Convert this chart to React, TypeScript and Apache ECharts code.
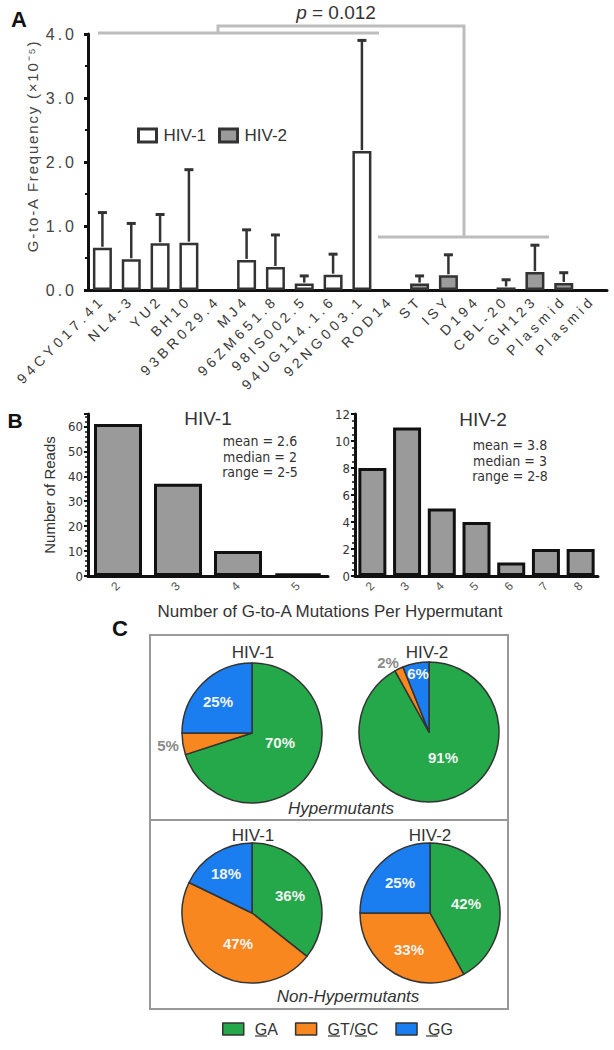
import React, { useEffect, useRef } from 'react';
import * as echarts from 'echarts';

// ---------- Panel A data ----------
const strainNames = ['94CY017.41', 'NL4-3', 'YU2', 'BH10', '93BR029.4', 'MJ4', '96ZM651.8', '98IS002.5', '94UG114.1.6', '92NG003.1', 'ROD14', 'ST', 'ISY', 'D194', 'CBL-20', 'GH123', 'Plasmid', 'Plasmid'];
const strainType = ['HIV-1', 'HIV-1', 'HIV-1', 'HIV-1', 'HIV-1', 'HIV-1', 'HIV-1', 'HIV-1', 'HIV-1', 'HIV-1', 'HIV-2', 'HIV-2', 'HIV-2', 'HIV-2', 'HIV-2', 'HIV-2', 'HIV-2', 'HIV-2'];
const gaFrequency = [0.66, 0.48, 0.73, 0.74, 0, 0.47, 0.36, 0.10, 0.24, 2.17, 0, 0.10, 0.23, 0, 0.04, 0.28, 0.11, 0];
const gaFrequencySD = [0.55, 0.56, 0.45, 1.14, 0, 0.47, 0.50, 0.12, 0.32, 1.73, 0, 0.12, 0.32, 0, 0.12, 0.42, 0.16, 0];
const freqTickLabels = ['0.0', '1.0', '2.0', '3.0', '4.0'];
const pValueText = '= 0.012';

// ---------- Panel B data ----------
const hiv1MutCounts = ['2', '3', '4', '5'];
const hiv1Reads = [61, 37, 10, 1];
const hiv2MutCounts = ['2', '3', '4', '5', '6', '7', '8'];
const hiv2Reads = [8, 11, 5, 4, 1, 2, 2];
const hiv1Stats = ['mean = 2.6', 'median = 2', 'range = 2-5'];
const hiv2Stats = ['mean = 3.8', 'median = 3', 'range = 2-8'];

// ---------- Panel C data ----------
const mutationTypes = ['GA', 'GT/GC', 'GG'];
const hyperHIV1 = [70, 5, 25];
const hyperHIV2 = [91, 2, 6];
const nonHyperHIV1 = [36, 47, 18];
const nonHyperHIV2 = [42, 33, 25];

// ---------- styles ----------
const FONT = "'Liberation Sans', Arial, sans-serif";
const NARROW = "'Liberation Sans Narrow', 'DejaVu Sans Condensed', sans-serif";
const pieColors = ['#24a84a', '#f7871e', '#1b7ef0'];
const yNameA = 'G-to-A Frequency (×10⁻⁵)';

function txt(x: number, y: number, text: string, size: number, extra: any = {}) {
  return {
    type: 'text',
    x,
    y,
    silent: true,
    rotation: extra.rotation || 0,
    style: {
      text,
      fontSize: size,
      fontFamily: extra.fontFamily || FONT,
      fontWeight: extra.fontWeight || 'normal',
      fontStyle: extra.fontStyle || 'normal',
      fill: extra.fill || '#333',
      align: extra.align || 'center',
      verticalAlign: extra.verticalAlign || 'middle',
      textAlign: extra.align || 'center',
      textVerticalAlign: extra.verticalAlign || 'middle',
      lineHeight: extra.lineHeight,
      rich: extra.rich,
    },
  };
}

function uline(x1: number, x2: number, y: number) {
  return { type: 'line', silent: true, shape: { x1, y1: y, x2, y2: y }, style: { stroke: '#333', lineWidth: 1.2 } };
}

function pieSeries(values: number[], center: number[], offsets: number[][], greyIdx: number[]) {
  return {
    type: 'pie',
    center,
    radius: 70,
    startAngle: 90,
    clockwise: true,
    avoidLabelOverlap: false,
    data: mutationTypes.map((n, i) => ({
      name: n,
      value: values[i],
      itemStyle: { color: pieColors[i] },
      label: greyIdx.includes(i) ? { color: '#8a8a8a' } : undefined,
    })),
    itemStyle: { borderColor: '#333', borderWidth: 1.5 },
    label: {
      show: true,
      position: 'inside',
      formatter: '{c}%',
      color: '#f2f4f2',
      fontWeight: 'bold',
      fontSize: 15,
      fontFamily: FONT,
    },
    labelLine: { show: false },
    emphasis: { disabled: true },
    labelLayout: (p: any) => {
      const o = offsets[p.dataIndex];
      return { x: center[0] + o[0], y: center[1] + o[1], align: 'center', verticalAlign: 'middle' };
    },
  };
}

function buildOption(): any {
  const axisLineStyle = { lineStyle: { color: '#111', width: 3 } };
  return {
    animation: false,
    textStyle: { fontFamily: FONT },
    grid: [
      { left: 88, top: 34, width: 519, height: 256 },
      { left: 88, top: 414, width: 240, height: 162 },
      { left: 355, top: 414, width: 243, height: 162 },
    ],
    legend: [
      {
        data: ['HIV-1', 'HIV-2'],
        left: 137,
        top: 127,
        icon: 'rect',
        itemWidth: 18,
        itemHeight: 13,
        itemGap: 12,
        selectedMode: false,
        padding: 0,
        itemStyle: { borderWidth: 3, borderColor: '#333' },
        textStyle: { fontSize: 17, color: '#333', fontFamily: FONT, padding: [0, 0, 0, 2] },
      },
      {
        data: mutationTypes,
        left: 222,
        top: 1021,
        icon: 'rect',
        itemWidth: 21,
        itemHeight: 12,
        itemGap: 17,
        selectedMode: false,
        padding: 0,
        itemStyle: { borderWidth: 1.5, borderColor: '#333' },
        textStyle: { fontSize: 16, color: '#333', fontFamily: FONT, padding: [0, 0, 0, 6] },
      },
    ],
    xAxis: [
      {
        type: 'category',
        gridIndex: 0,
        data: strainNames,
        axisLine: axisLineStyle,
        axisTick: { alignWithLabel: true, length: 5, lineStyle: { color: '#111', width: 3 } },
        axisLabel: { interval: 0, rotate: 45, fontSize: 14, color: '#3a3a3a', margin: 8 },
      },
      {
        type: 'category',
        gridIndex: 1,
        data: hiv1MutCounts,
        axisLine: axisLineStyle,
        axisTick: { alignWithLabel: true, length: 5, lineStyle: { color: '#111', width: 2.5 } },
        axisLabel: { rotate: 45, fontSize: 12, color: '#555', margin: 8 },
      },
      {
        type: 'category',
        gridIndex: 2,
        data: hiv2MutCounts,
        axisLine: axisLineStyle,
        axisTick: { alignWithLabel: true, length: 5, lineStyle: { color: '#111', width: 2.5 } },
        axisLabel: { rotate: 45, fontSize: 12, color: '#555', margin: 8 },
      },
    ],
    yAxis: [
      {
        type: 'value',
        gridIndex: 0,
        min: 0,
        max: 4,
        interval: 1,
        axisLine: { show: true, ...axisLineStyle },
        axisTick: { show: true, length: 4, lineStyle: { color: '#111', width: 3 } },
        minorTick: { show: true, splitNumber: 2, length: 3, lineStyle: { color: '#111', width: 2 } },
        splitLine: { show: false },
        axisLabel: {
          fontSize: 16,
          color: '#444',
          margin: 11,
          formatter: (v: number) => freqTickLabels[Math.round(v)] ?? '',
        },
      },
      {
        type: 'value',
        gridIndex: 1,
        min: 0,
        max: 65,
        interval: 10,
        name: 'Number of Reads',
        nameLocation: 'middle',
        nameGap: 31,
        nameTextStyle: { fontSize: 15, color: '#333' },
        axisLine: { show: true, ...axisLineStyle },
        axisTick: { show: true, length: 4, lineStyle: { color: '#111', width: 2 } },
        minorTick: { show: true, splitNumber: 5, length: 3, lineStyle: { color: '#111', width: 1.5 } },
        splitLine: { show: false },
        axisLabel: { fontSize: 13, color: '#333', fontFamily: NARROW, margin: 5, showMaxLabel: false },
      },
      {
        type: 'value',
        gridIndex: 2,
        min: 0,
        max: 12,
        interval: 2,
        axisLine: { show: true, ...axisLineStyle },
        axisTick: { show: true, length: 4, lineStyle: { color: '#111', width: 2 } },
        minorTick: { show: true, splitNumber: 4, length: 3, lineStyle: { color: '#111', width: 1.5 } },
        splitLine: { show: false },
        axisLabel: { fontSize: 13, color: '#333', fontFamily: NARROW, margin: 5 },
      },
    ],
    series: [
      {
        name: 'HIV-1',
        type: 'bar',
        xAxisIndex: 0,
        yAxisIndex: 0,
        barWidth: 19,
        barGap: '-100%',
        data: gaFrequency.map((v, i) => (strainType[i] === 'HIV-1' && v > 0 ? v : null)),
        itemStyle: { color: '#ffffff', borderColor: '#333', borderWidth: 2.5 },
        emphasis: { disabled: true },
      },
      {
        name: 'HIV-2',
        type: 'bar',
        xAxisIndex: 0,
        yAxisIndex: 0,
        barWidth: 19,
        barGap: '-100%',
        data: gaFrequency.map((v, i) => (strainType[i] === 'HIV-2' && v > 0 ? v : null)),
        itemStyle: { color: '#9b9b9b', borderColor: '#333', borderWidth: 2.5 },
        emphasis: { disabled: true },
      },
      {
        name: 'SD',
        type: 'custom',
        xAxisIndex: 0,
        yAxisIndex: 0,
        encode: { x: 0, y: 2 },
        data: gaFrequency
          .map((v, i) => [i, v, v + gaFrequencySD[i]])
          .filter((d, i) => gaFrequencySD[i] > 0),
        renderItem: (params: any, api: any) => {
          const i = api.value(0);
          const base = api.coord([i, api.value(1)]);
          const top = api.coord([i, api.value(2)]);
          return {
            type: 'group',
            children: [
              { type: 'line', shape: { x1: base[0], y1: base[1] - 1, x2: top[0], y2: top[1] }, style: { stroke: '#333', lineWidth: 2.5 } },
              { type: 'line', shape: { x1: top[0] - 4.5, y1: top[1], x2: top[0] + 4.5, y2: top[1] }, style: { stroke: '#333', lineWidth: 3 } },
            ],
          };
        },
      },
      {
        name: 'Reads HIV-1',
        type: 'bar',
        xAxisIndex: 1,
        yAxisIndex: 1,
        barWidth: 48,
        data: hiv1Reads,
        itemStyle: { color: '#9a9a9a', borderColor: '#111', borderWidth: 3 },
        emphasis: { disabled: true },
      },
      {
        name: 'Reads HIV-2',
        type: 'bar',
        xAxisIndex: 2,
        yAxisIndex: 2,
        barWidth: 28,
        data: hiv2Reads,
        itemStyle: { color: '#9a9a9a', borderColor: '#111', borderWidth: 3 },
        emphasis: { disabled: true },
      },
      pieSeries(hyperHIV1, [252, 733], [[28, 9], [-84, 12], [-34, -32]], [1]),
      pieSeries(hyperHIV2, [429, 732], [[14, 25], [-41, -70], [-11, -59]], [1]),
      pieSeries(nonHyperHIV1, [252, 913], [[38, -18], [-14, 30], [-26, -40]], []),
      pieSeries(nonHyperHIV2, [430, 913], [[36, -10], [-21, 36], [-30, -31]], []),
    ],
    graphic: [
      // Panel labels
      txt(19, 19, 'A', 22, { fontWeight: 'bold', fill: '#111' }),
      txt(15, 420, 'B', 21, { fontWeight: 'bold', fill: '#111' }),
      txt(120, 628, 'C', 22, { fontWeight: 'bold', fill: '#111' }),
      // Panel A annotations
      txt(32, 146, yNameA, 15, { rotation: Math.PI / 2, fill: '#444' }),
      txt(336, 12, '{i|p} ' + pValueText, 19, { rich: { i: { fontStyle: 'italic', fontSize: 19, fontFamily: FONT, fill: '#333' } } }),
      { type: 'line', silent: true, shape: { x1: 98, y1: 33, x2: 379, y2: 33 }, style: { stroke: '#bdbdbd', lineWidth: 3 } },
      { type: 'polyline', silent: true, shape: { points: [[218, 33], [218, 26], [464, 26], [464, 237]] }, style: { stroke: '#bdbdbd', lineWidth: 3, fill: 'none' } },
      { type: 'line', silent: true, shape: { x1: 378, y1: 237, x2: 549, y2: 237 }, style: { stroke: '#bdbdbd', lineWidth: 3 } },
      // Panel B annotations
      txt(208, 418, 'HIV-1', 19),
      txt(483, 419, 'HIV-2', 19),
      txt(260, 433.5, hiv1Stats.join('\n'), 14, { fontFamily: NARROW, verticalAlign: 'top', lineHeight: 15.5 }),
      txt(510, 437.5, hiv2Stats.join('\n'), 14, { fontFamily: NARROW, verticalAlign: 'top', lineHeight: 15.5 }),
      txt(330, 611, 'Number of G-to-A Mutations Per Hypermutant', 17),
      // Panel C boxes and titles
      { type: 'rect', silent: true, shape: { x: 150, y: 635, width: 358, height: 185 }, style: { fill: 'none', stroke: '#999', lineWidth: 2 } },
      { type: 'rect', silent: true, shape: { x: 150, y: 820, width: 358, height: 189 }, style: { fill: 'none', stroke: '#999', lineWidth: 2 } },
      txt(253, 652, 'HIV-1', 17),
      txt(427, 652, 'HIV-2', 17),
      txt(253, 835, 'HIV-1', 17),
      txt(430, 835, 'HIV-2', 17),
      txt(341, 808, 'Hypermutants', 17, { fontStyle: 'italic' }),
      txt(348, 996, 'Non-Hypermutants', 17, { fontStyle: 'italic' }),
      // underlined G in the legend labels
      uline(255, 267, 1036),
      uline(328, 340, 1036),
      uline(355, 367, 1036),
      uline(426, 438, 1036),
    ],
  };
}

export default function App() {
  const ref = useRef<HTMLDivElement>(null);
  useEffect(() => {
    document.body.style.margin = '0';
    const el = ref.current!;
    const chart = echarts.init(el, null, { renderer: 'svg' });
    chart.setOption(buildOption());
    const spacing = new Map<string, string>();
    strainNames.forEach((n) => spacing.set(n, '4px'));
    freqTickLabels.forEach((t) => spacing.set(t, '3px'));
    spacing.set(yNameA, '1.8px');
    const apply = () => {
      el.querySelectorAll('text').forEach((t) => {
        const s = spacing.get((t.textContent || '').trim());
        if (s) (t as any).style.letterSpacing = s;
      });
    };
    apply();
    chart.on('rendered', apply);
    return () => {
      chart.dispose();
    };
  }, []);
  return <div ref={ref} style={{ width: 614, height: 1050 }} />;
}
